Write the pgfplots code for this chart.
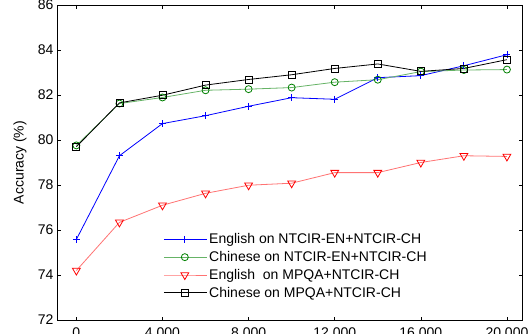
\documentclass[border=0pt]{standalone}
\usepackage{fontspec}
\setmainfont{Liberation Sans}
\usepackage{pgfplots}
\pgfplotsset{compat=1.18}
\definecolor{cgreen}{RGB}{0,128,0}
\begin{document}
\begin{tikzpicture}
\path[use as bounding box, clip] (0pt,0pt) rectangle (529pt,333pt);
\begin{axis}[
  at={(57pt,13pt)}, anchor=south west, scale only axis,
  width=465pt, height=315pt,
  xmin=-900, xmax=20700, ymin=72, ymax=86,
  xtick={0,4000,8000,12000,16000,20000},
  ytick={72,74,76,78,80,82,84,86},
  scaled x ticks=false,
  /pgf/number format/assume math mode=true,
  /pgf/number format/1000 sep={,},
  tick label style={font=\fontsize{14}{16}\selectfont},
  xticklabel style={yshift=-4pt},
  ylabel={Accuracy (\%)},
  ylabel style={font=\fontsize{14}{16}\selectfont, at={(-0.058,0.5)}},
  major tick length=3.5pt,
  tick style={black, line width=0.6pt},
  axis line style={line width=0.9pt},
  legend cell align=left,
  legend style={draw=none, fill=none, at={(0.222,0.288)}, anchor=north west,
    font=\fontsize{14}{16}\selectfont, row sep=2.2pt},
  legend image code/.code={\draw[mark repeat=2,mark phase=2] plot coordinates {(0pt,0pt) (21pt,0pt) (43pt,0pt)};},
  every axis plot/.append style={line width=0.8pt, mark size=3.5pt},
]
\addplot[blue, mark=+, mark options={draw=blue, line width=0.8pt}] coordinates {
(0,75.58) (2000,79.30) (4000,80.73) (6000,81.08) (8000,81.50) (10000,81.88) (12000,81.81) (14000,82.77) (16000,82.86) (18000,83.30) (20000,83.79)};
\addlegendentry{English on NTCIR-EN+NTCIR-CH}
\addplot[cgreen!60, mark=o, mark options={draw=cgreen, fill=none, line width=0.8pt}] coordinates {
(0,79.76) (2000,81.62) (4000,81.89) (6000,82.21) (8000,82.26) (10000,82.33) (12000,82.57) (14000,82.68) (16000,83.04) (18000,83.11) (20000,83.13)};
\addlegendentry{Chinese on NTCIR-EN+NTCIR-CH}
\addplot[red!55, mark=triangle, mark options={draw=red, fill=none, rotate=180, line width=0.8pt, scale=1.3}] coordinates {
(0,74.20) (2000,76.34) (4000,77.10) (6000,77.63) (8000,77.99) (10000,78.08) (12000,78.55) (14000,78.55) (16000,79.00) (18000,79.30) (20000,79.27)};
\addlegendentry{English\ \ on MPQA+NTCIR-CH}
\addplot[black, mark=square, mark options={draw=black, fill=none, line width=0.8pt}] coordinates {
(0,79.70) (2000,81.65) (4000,81.99) (6000,82.44) (8000,82.69) (10000,82.90) (12000,83.18) (14000,83.38) (16000,83.05) (18000,83.18) (20000,83.57)};
\addlegendentry{Chinese on MPQA+NTCIR-CH}
\end{axis}
\end{tikzpicture}
\end{document}
